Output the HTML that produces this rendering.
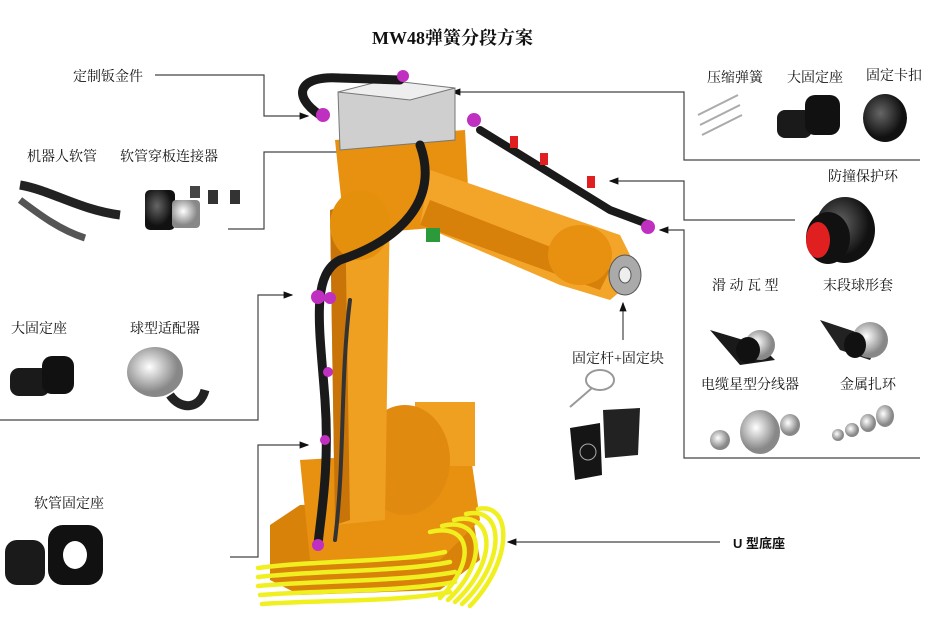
<!DOCTYPE html>
<html><head><meta charset="utf-8"><style>
html,body{margin:0;padding:0;background:#fff}
#c{position:relative;width:945px;height:633px;overflow:hidden;font-family:"Liberation Serif","Noto Serif CJK SC","Noto Sans CJK SC",serif;color:#111}
.t{position:absolute;font-size:14px;white-space:nowrap}
</style></head><body><div id="c">
<svg width="945" height="633" style="position:absolute;left:0;top:0">
<defs>
<marker id="a" markerWidth="8" markerHeight="8" refX="7" refY="4" orient="auto"><path d="M0,1 L8,4 L0,7z" fill="#111"/></marker>
<radialGradient id="bk" cx="40%" cy="40%"><stop offset="0" stop-color="#666"/><stop offset="1" stop-color="#111"/></radialGradient>
<radialGradient id="sv" cx="40%" cy="40%"><stop offset="0" stop-color="#fff"/><stop offset="1" stop-color="#888"/></radialGradient>
</defs>
<g stroke="#444" stroke-width="1.2" fill="none">
<polyline points="155,75 264,75 264,116 308,116" marker-end="url(#a)"/>
<polyline points="228,229 264,229 264,152 408,152" marker-end="url(#a)"/>
<polyline points="0,420 258,420 258,295 292,295" marker-end="url(#a)"/>
<polyline points="230,557 258,557 258,445 308,445" marker-end="url(#a)"/>
<polyline points="920,160 684,160 684,92 452,92" marker-end="url(#a)"/>
<polyline points="795,220 684,220 684,181 610,181" marker-end="url(#a)"/>
<polyline points="920,458 684,458 684,230 660,230" marker-end="url(#a)"/>
<polyline points="623,340 623,303" marker-end="url(#a)"/>
<polyline points="720,542 508,542" marker-end="url(#a)"/>
</g>
<g>
<path d="M270,525 L300,505 L470,500 L480,560 L440,590 L300,595 L270,580z" fill="#d9820a"/>
<path d="M300,460 L470,450 L480,520 L440,560 L310,560z" fill="#e8900f"/>
<rect x="415" y="402" width="60" height="64" fill="#f0a020"/>
<ellipse cx="405" cy="460" rx="45" ry="55" fill="#e08a10"/>
<path d="M330,210 L390,200 L385,520 L335,525z" fill="#f0a020"/>
<path d="M330,210 L345,205 L350,520 L335,525z" fill="#c87408"/>
<path d="M335,140 L465,130 L470,225 L345,235z" fill="#e8900f"/>
<ellipse cx="360" cy="225" rx="30" ry="35" fill="#e5900c"/>
<path d="M430,170 L620,235 L640,275 L610,300 L560,285 L420,225z" fill="#f3a52a"/>
<path d="M430,200 L610,270 L600,290 L420,225z" fill="#d7800a"/>
<ellipse cx="580" cy="255" rx="32" ry="30" fill="#e8900f"/>
<ellipse cx="625" cy="275" rx="16" ry="20" fill="#aaa" stroke="#555"/>
<ellipse cx="625" cy="275" rx="6" ry="8" fill="#eee" stroke="#555"/>
<rect x="426" y="228" width="14" height="14" fill="#2a9a3a"/>
<path d="M338,92 L455,88 L455,140 L340,150z" fill="#cfcfcf" stroke="#777"/>
<path d="M338,92 L385,80 L455,88 L410,100z" fill="#eee" stroke="#777"/>
<g fill="none" stroke="#1a1a1a" stroke-linecap="round">
<path d="M320,115 C290,95 300,75 340,78 L400,80" stroke-width="9"/>
<path d="M480,130 L610,210 L650,225" stroke-width="8"/>
<path d="M420,145 C440,200 400,240 340,260 C310,275 320,330 325,400 C330,470 320,520 318,545" stroke-width="9"/>
<path d="M350,300 C340,380 345,460 335,540" stroke-width="4" stroke="#333"/>
</g>
<g fill="#e02020"><rect x="510" y="136" width="8" height="12"/><rect x="540" y="153" width="8" height="12"/><rect x="587" y="176" width="8" height="12"/></g>
<g fill="#c030c0"><circle cx="323" cy="115" r="7"/><circle cx="474" cy="120" r="7"/><circle cx="403" cy="76" r="6"/><circle cx="318" cy="297" r="7"/><circle cx="330" cy="298" r="6"/><circle cx="328" cy="372" r="5"/><circle cx="325" cy="440" r="5"/><circle cx="318" cy="545" r="6"/><circle cx="648" cy="227" r="7"/></g>
<g fill="none" stroke="#f0f020" stroke-width="4.5" stroke-linecap="round">
<path d="M258,568 C320,560 400,562 445,552"/>
<path d="M258,577 C320,570 400,572 450,562"/>
<path d="M258,586 C320,580 400,582 455,572"/>
<path d="M260,595 C320,590 400,592 455,582"/>
<path d="M262,604 C320,600 400,602 450,592"/>
<path d="M430,532 C470,522 478,560 440,598"/>
<path d="M442,526 C482,516 490,560 448,600"/>
<path d="M454,520 C494,510 500,560 455,602"/>
<path d="M466,514 C504,505 508,560 462,604"/>
<path d="M478,509 C512,502 514,560 470,606"/>
</g>
</g>
<g>
<path d="M20,185 C50,190 80,210 120,215" stroke="#222" stroke-width="9" fill="none"/>
<path d="M20,200 C40,215 60,230 85,238" stroke="#555" stroke-width="7" fill="none"/>
<rect x="145" y="190" width="30" height="40" rx="5" fill="url(#bk)"/>
<rect x="172" y="200" width="28" height="28" rx="4" fill="url(#sv)"/>
<rect x="208" y="190" width="10" height="14" fill="#333"/><rect x="230" y="190" width="10" height="14" fill="#333"/><rect x="190" y="186" width="10" height="12" fill="#444"/>
<rect x="10" y="368" width="40" height="28" rx="9" fill="#1a1a1a"/><rect x="42" y="356" width="32" height="38" rx="10" fill="#111"/>
<ellipse cx="155" cy="372" rx="28" ry="25" fill="url(#sv)"/><path d="M170,395 C180,410 200,410 205,390" stroke="#222" stroke-width="9" fill="none"/>
<rect x="5" y="540" width="40" height="45" rx="12" fill="#1a1a1a"/><rect x="48" y="525" width="55" height="60" rx="15" fill="#111"/><ellipse cx="75" cy="555" rx="12" ry="14" fill="#fff"/>
<g stroke="#aaa" stroke-width="2" fill="none"><path d="M698,115 l40,-20 M700,125 l40,-20 M702,135 l40,-20"/></g>
<rect x="777" y="110" width="35" height="28" rx="8" fill="#1a1a1a"/><rect x="805" y="95" width="35" height="40" rx="10" fill="#111"/>
<ellipse cx="885" cy="118" rx="22" ry="24" fill="url(#bk)"/>
<ellipse cx="845" cy="230" rx="30" ry="33" fill="url(#bk)"/><ellipse cx="828" cy="238" rx="22" ry="26" fill="#111"/><ellipse cx="818" cy="240" rx="12" ry="18" fill="#e02020"/>
<path d="M710,330 L760,345 L775,360 L740,365z" fill="#1a1a1a"/><ellipse cx="760" cy="345" rx="15" ry="15" fill="url(#sv)"/><ellipse cx="748" cy="350" rx="12" ry="13" fill="#111"/>
<path d="M820,320 L880,340 L870,360 L840,350z" fill="#222"/><ellipse cx="870" cy="340" rx="18" ry="18" fill="url(#sv)"/><ellipse cx="855" cy="345" rx="11" ry="13" fill="#111"/>
<ellipse cx="760" cy="432" rx="20" ry="22" fill="url(#sv)"/><ellipse cx="720" cy="440" rx="10" ry="10" fill="url(#sv)"/><ellipse cx="790" cy="425" rx="10" ry="11" fill="url(#sv)"/>
<g fill="url(#sv)"><ellipse cx="838" cy="435" rx="6" ry="6"/><ellipse cx="852" cy="430" rx="7" ry="7"/><ellipse cx="868" cy="423" rx="8" ry="9"/><ellipse cx="885" cy="416" rx="9" ry="11"/></g>
<ellipse cx="600" cy="380" rx="14" ry="10" fill="none" stroke="#999" stroke-width="2"/><line x1="570" y1="407" x2="592" y2="388" stroke="#999" stroke-width="2"/>
<path d="M570,428 L600,423 L602,475 L575,480z" fill="#151515"/><path d="M603,410 L640,408 L638,455 L605,458z" fill="#222"/><circle cx="588" cy="452" r="8" fill="none" stroke="#aaa"/>
</g>
</svg>
<div class="t" style="left:372px;top:24px;font-size:18px;font-weight:bold">MW48弹簧分段方案</div>
<div class="t" style="left:73px;top:66px">定制钣金件</div>
<div class="t" style="left:27px;top:146px">机器人软管</div>
<div class="t" style="left:120px;top:146px">软管穿板连接器</div>
<div class="t" style="left:11px;top:318px">大固定座</div>
<div class="t" style="left:130px;top:318px">球型适配器</div>
<div class="t" style="left:34px;top:493px">软管固定座</div>
<div class="t" style="left:707px;top:67px">压缩弹簧</div>
<div class="t" style="left:787px;top:67px">大固定座</div>
<div class="t" style="left:866px;top:65px">固定卡扣</div>
<div class="t" style="left:828px;top:166px">防撞保护环</div>
<div class="t" style="left:712px;top:275px">滑 动 瓦 型</div>
<div class="t" style="left:823px;top:275px">末段球形套</div>
<div class="t" style="left:701px;top:374px">电缆星型分线器</div>
<div class="t" style="left:840px;top:374px">金属扎环</div>
<div class="t" style="left:572px;top:348px">固定杆+固定块</div>
<div class="t" style="left:733px;top:533px;font-family:'Liberation Sans','Noto Sans CJK SC',sans-serif;font-weight:bold;font-size:13px">U 型底座</div>
</div></body></html>
